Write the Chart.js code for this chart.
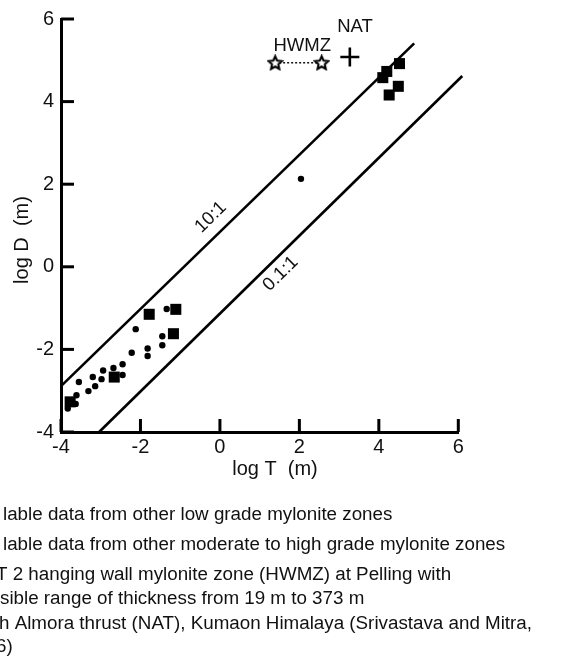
<!DOCTYPE html>
<html>
<head>
<meta charset="utf-8">
<script src="https://cdn.jsdelivr.net/npm/chart.js@4/dist/chart.umd.min.js"></script>
<style>
html,body{margin:0;padding:0;background:#fff;}
#wrap{position:relative;width:563px;height:661px;overflow:hidden;}
canvas{display:block;}
</style>
</head>
<body>
<div id="wrap"><canvas id="c" width="563" height="661"></canvas></div>
<script>
// ---- data (log T, log D in metres) ----
const lowGradeLogT = [-3.55,-3.61,-3.31,-3.14,-3.20,-2.98,-2.94,-2.68,-2.45,-2.45,-2.22,-2.12,-1.82,-1.82,-1.45,-1.45,-1.34,-3.63,-3.83,2.04];
const lowGradeLogD = [-2.79,-3.11,-3.01,-2.89,-2.67,-2.72,-2.51,-2.45,-2.62,-2.36,-2.08,-1.51,-1.98,-2.16,-1.68,-1.90,-1.02,-3.32,-3.43,2.13];
const highGradeLogT = [-3.77,-2.66,-1.78,-1.11,-1.17,4.52,4.20,4.10,4.49,4.26];
const highGradeLogD = [-3.27,-2.67,-1.15,-1.03,-1.62,4.92,4.73,4.58,4.37,4.16];
const hwmzLogT = [1.39,2.56];
const hwmzLogD = [4.94,4.94];
const natLogT = [3.27];
const natLogD = [5.08];
const ratio10LogT = [-4.00,4.89];
const ratio10LogD = [-2.89,5.41];
const ratio01LogT = [-3.04,6.10];
const ratio01LogD = [-4.00,4.62];
const xTickValues = [-4,-2,0,2,4,6];
const yTickValues = [-4,-2,0,2,4,6];
const xTitle = 'log T  (m)';
const yTitle = 'log D  (m)';
const markerLabels = ['10:1','0.1:1','HWMZ','NAT'];
const legendLines = [
  'lable data from other low grade mylonite zones',
  'lable data from other moderate to high grade mylonite zones',
  'T 2 hanging wall mylonite zone (HWMZ) at Pelling with',
  'sible range of thickness from 19 m to 373 m',
  'h Almora thrust (NAT), Kumaon Himalaya (Srivastava and Mitra,',
  '6)'
];

// ---- layout / style (not data) ----
const FONT = '"Liberation Sans", Arial, sans-serif';
const labelPlacement = [
  {x:-0.23, y:1.20, rot:'upper'},
  {x:1.53, y:-0.17, rot:'lower'},
  {x:2.07, y:5.34, rot:null},
  {x:3.40, y:5.81, rot:null}
];
const legendPos = [
  {x:3, y:520},{x:3, y:550},{x:-4, y:580},{x:0, y:603.5},{x:-1, y:628.5},{x:-4, y:652}
];

const zip = (xs, ys) => xs.map((v, i) => ({x: v, y: ys[i]}));

// open five-point star marker
function makeStar(){
  const s = 17, c = document.createElement('canvas');
  c.width = s; c.height = s;
  const g = c.getContext('2d');
  const cx = s/2, cy = s/2 + 0.5, R = 7, r = 3.3;
  g.beginPath();
  for (let i = 0; i < 10; i++) {
    const a = -Math.PI/2 + i*Math.PI/5;
    const rr = i % 2 ? r : R;
    const px = cx + rr*Math.cos(a), py = cy + rr*Math.sin(a);
    i ? g.lineTo(px, py) : g.moveTo(px, py);
  }
  g.closePath();
  g.fillStyle = '#fff'; g.fill();
  g.lineWidth = 2.1; g.strokeStyle = '#000'; g.lineJoin = 'miter'; g.stroke();
  return c;
}
const starImg = makeStar();

const decor = {
  id: 'decor',
  afterDraw(chart) {
    const ctx = chart.ctx, xs = chart.scales.x, ys = chart.scales.y, ca = chart.chartArea;
    ctx.save();
    // inward tick marks
    ctx.strokeStyle = '#000'; ctx.lineWidth = 3; ctx.lineCap = 'butt';
    xTickValues.forEach(v => {
      const p = xs.getPixelForValue(v);
      ctx.beginPath(); ctx.moveTo(p, ca.bottom); ctx.lineTo(p, ca.bottom - 13); ctx.stroke();
    });
    yTickValues.forEach(v => {
      const p = ys.getPixelForValue(v);
      ctx.beginPath(); ctx.moveTo(ca.left, p); ctx.lineTo(ca.left + 13, p); ctx.stroke();
    });
    ctx.fillStyle = '#111';
    // axis titles
    ctx.font = '20px ' + FONT;
    ctx.textAlign = 'center'; ctx.textBaseline = 'alphabetic';
    ctx.fillText(xTitle, 275, 475);
    ctx.save();
    ctx.translate(28, 240); ctx.rotate(-Math.PI/2);
    ctx.fillText(yTitle, 0, 0);
    ctx.restore();
    // marker labels
    const angle = (tx, ty) => {
      const x0 = xs.getPixelForValue(tx[0]), y0 = ys.getPixelForValue(ty[0]);
      const x1 = xs.getPixelForValue(tx[1]), y1 = ys.getPixelForValue(ty[1]);
      return Math.atan2(y1 - y0, x1 - x0);
    };
    const rots = {upper: angle(ratio10LogT, ratio10LogD), lower: angle(ratio01LogT, ratio01LogD)};
    ctx.textBaseline = 'middle';
    markerLabels.forEach((t, i) => {
      const L = labelPlacement[i];
      const px = xs.getPixelForValue(L.x), py = ys.getPixelForValue(L.y);
      ctx.save();
      ctx.translate(px, py);
      if (L.rot) ctx.rotate(rots[L.rot]);
      ctx.font = (L.rot ? '18.5px ' : '18.5px ') + FONT;
      ctx.fillText(t, 0, 0);
      ctx.restore();
    });
    // legend text below the plot
    ctx.font = '18.8px ' + FONT;
    ctx.textAlign = 'left'; ctx.textBaseline = 'alphabetic';
    legendLines.forEach((t, i) => ctx.fillText(t, legendPos[i].x, legendPos[i].y));
    ctx.restore();
  }
};

const tickFont = {family: FONT, size: 20};

new Chart(document.getElementById('c'), {
  type: 'scatter',
  data: {
    datasets: [
      {label: '10:1', data: zip(ratio10LogT, ratio10LogD), showLine: true, pointRadius: 0,
       borderColor: '#000', borderWidth: 2.6, clip: false, order: 5},
      {label: '0.1:1', data: zip(ratio01LogT, ratio01LogD), showLine: true, pointRadius: 0,
       borderColor: '#000', borderWidth: 2.6, clip: false, order: 5},
      {label: 'low grade', data: zip(lowGradeLogT, lowGradeLogD), pointStyle: 'circle', pointRadius: 3.2,
       backgroundColor: '#000', borderColor: '#000', borderWidth: 0, clip: false, order: 2},
      {label: 'moderate to high grade', data: zip(highGradeLogT, highGradeLogD), pointStyle: 'rect', pointRadius: 7.8,
       backgroundColor: '#000', borderColor: '#000', borderWidth: 0, clip: false, order: 1},
      {label: 'HWMZ', data: zip(hwmzLogT, hwmzLogD), showLine: true, borderDash: [2, 2], borderWidth: 1.4,
       borderColor: '#000', pointStyle: starImg, pointRadius: 8, clip: false, order: 3},
      {label: 'NAT', data: zip(natLogT, natLogD), pointStyle: 'cross', pointRadius: 9.5,
       borderColor: '#000', pointBorderWidth: 2.6, borderWidth: 2.6, clip: false, order: 3}
    ]
  },
  options: {
    responsive: false,
    animation: false,
    events: [],
    layout: {padding: {left: 0, right: 104.7, top: 18, bottom: 0}},
    plugins: {legend: {display: false}, tooltip: {enabled: false}},
    scales: {
      x: {
        type: 'linear', min: -4, max: 6,
        afterBuildTicks: s => { s.ticks = xTickValues.map(v => ({value: v})); },
        ticks: {font: tickFont, color: '#111', padding: 3, maxRotation: 0},
        grid: {display: false, drawTicks: false},
        border: {display: true, color: '#000', width: 3},
        afterFit: s => { s.height = 229; }
      },
      y: {
        type: 'linear', min: -4, max: 6,
        afterBuildTicks: s => { s.ticks = yTickValues.map(v => ({value: v})); },
        ticks: {font: tickFont, color: '#111', padding: 7},
        grid: {display: false, drawTicks: false},
        border: {display: true, color: '#000', width: 3},
        afterFit: s => { s.width = 61; }
      }
    }
  },
  plugins: [decor]
});
</script>
</body>
</html>
